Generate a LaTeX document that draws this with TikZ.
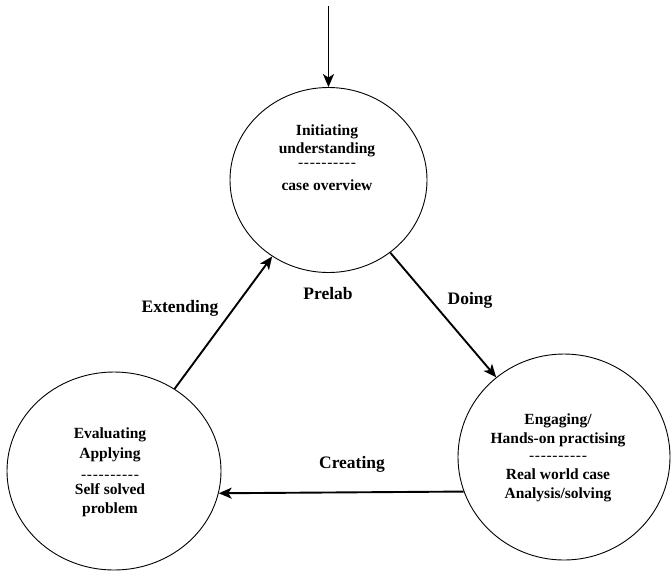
\documentclass[tikz,border=0pt]{standalone}
\usepackage{fontspec}
\setmainfont{Liberation Serif}
\usetikzlibrary{arrows.meta,shapes.geometric}
\newcommand\dd{-\kern0.7pt}
\newcommand\dashrow{\dd\dd\dd\dd\dd\dd\dd\dd\dd-}
\begin{document}
\begin{tikzpicture}[x=1pt,y=-1pt,
  stage/.style={draw=black,line width=0.9pt,ellipse,inner sep=0pt},
  txt/.style={anchor=base,inner sep=0pt,font=\fontsize{15.5}{19}\selectfont\bfseries},
  dsh/.style={anchor=base,inner sep=0pt,font=\fontsize{15.5}{19}\selectfont},
  lbl/.style={anchor=base,inner sep=0pt,font=\fontsize{17.5}{21}\selectfont\bfseries},
  arr/.style={line width=1.9pt,-{Stealth[length=13pt,width=11pt,inset=3.5pt]}}]
\useasboundingbox (0,0) rectangle (671,571);
% circles
\node[stage,minimum width=197pt,minimum height=185pt] (T) at (328.5,180) {};
\node[stage,minimum width=214pt,minimum height=198pt] (L) at (114,471) {};
\node[stage,minimum width=212pt,minimum height=206pt] (R) at (564,457) {};
% top circle text
\node[txt] (t1) at (327,135) {Initiating};
\node[txt] (t2) at (327,153) {understanding};
\node[dsh] (t3) at (327,167) {\dashrow};
\node[txt] (t4) at (327,190) {case overview};
% left circle text
\node[txt] (l1) at (110,438) {Evaluating};
\node[txt] (l2) at (110,458) {Applying};
\node[dsh] (l3) at (110,479) {\dashrow};
\node[txt] (l4) at (110,494) {Self solved};
\node[txt] (l5) at (110,513) {problem};
% right circle text
\node[txt] (r1) at (558,424) {Engaging/};
\node[txt] (r2) at (558,443) {Hands-on practising};
\node[dsh] (r3) at (558,460) {\dashrow};
\node[txt] (r4) at (558,479) {Real world case};
\node[txt] (r5) at (558,498) {Analysis/solving};
% labels
\node[lbl] (ext) at (180,312) {Extending};
\node[lbl] (pre) at (328,299) {Prelab};
\node[lbl] (doi) at (470,304) {Doing};
\node[lbl] (cre) at (352,468) {Creating};
% connectors
\coordinate (start) at (328.5,6);
\draw[arr] (start) -- (T.north);
\draw[arr] (L) -- (T);
\draw[arr] (T) -- (R);
\draw[arr] (R.199) -- (L.-12);
\end{tikzpicture}
\end{document}
